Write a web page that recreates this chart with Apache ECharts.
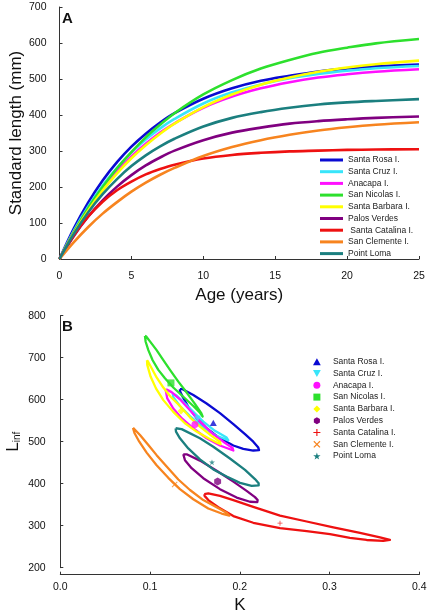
<!DOCTYPE html>
<html><head><meta charset="utf-8">
<script src="https://cdn.jsdelivr.net/npm/echarts@6/dist/echarts.min.js"></script>
<style>html,body{margin:0;padding:0;background:#fff}#c{width:430px;height:616px}</style>
</head><body><div id="c"></div>
<script>
// ---------- data ----------
const sites = ['Santa Rosa I.','Santa Cruz I.','Anacapa I.','San Nicolas I.','Santa Barbara I.','Palos Verdes','Santa Catalina I.','San Clemente I.','Point Loma'];
const legendANames = ['Santa Rosa I.','Santa Cruz I.','Anacapa I.','San Nicolas I.','Santa Barbara I.','Palos Verdes',' Santa Catalina I.','San Clemente I.','Point Loma'];
const colors = ['#0a0ad2','#38e5fa','#ff10ff','#2de02d','#ffff00','#800080','#ee1111','#f7841f','#1b7f7f'];

// Panel A: growth curves (age in years, standard length in mm)
const ages = [0,1,2,3,4,5,6,7,8,10,12,14,16,18,20,22,25];
const lenSantaRosa    = [0,85,157,218,269,312,348,379,405,445,474,495,509,521,529,535,540];
const lenSantaCruz    = [0,79,146,204,253,296,332,363,389,432,463,485,502,514,523,530,536];
const lenAnacapa      = [0,75,140,196,244,285,320,351,377,420,451,474,491,504,513,520,527];
const lenSanNicolas   = [0,75,142,200,252,297,338,373,405,457,497,529,553,573,587,599,611];
const lenSantaBarbara = [0,72,135,190,238,280,316,348,376,422,457,484,504,520,532,541,551];
const lenPalosVerdes  = [0,64,118,163,201,233,260,282,301,330,351,365,376,383,388,392,396];
const lenSantaCatalina= [0,66,118,159,191,215,235,250,262,279,289,295,299,301,303,304,305];
const lenSanClemente  = [0,47,89,126,158,187,212,234,253,286,311,330,345,357,366,373,380];
const lenPointLoma    = [0,70,130,180,222,258,288,313,334,368,392,408,420,429,435,439,444];

// Panel B: confidence regions [K, Linf]
const regSantaRosa = [[0.1333,625],[0.1363,625],[0.1482,611],[0.1630,591],[0.1779,568],[0.1928,542],[0.2058,518],[0.2150,500],[0.2206,486],[0.2214,480],[0.2150,479],[0.2039,483],[0.1928,491],[0.1779,508],[0.1630,532],[0.1519,556],[0.1426,583],[0.1363,607],[0.1333,621],[0.1333,625]];
const regSantaCruz = [[0.1252,615],[0.1259,606],[0.1333,585],[0.1445,561],[0.1575,537],[0.1723,516],[0.1872,503],[0.1853,510],[0.1723,526],[0.1593,548],[0.1482,571],[0.1370,595],[0.1296,610],[0.1252,615]];
const regAnacapa = [[0.1174,623],[0.1192,603],[0.1259,579],[0.1352,556],[0.1482,532],[0.1630,508],[0.1779,491],[0.1928,479],[0.1920,485],[0.1816,500],[0.1686,521],[0.1556,548],[0.1445,575],[0.1333,601],[0.1240,618],[0.1185,624],[0.1174,623]];
const regSanNicolas = [[0.0943,752],[0.0951,738],[0.0981,718],[0.1029,694],[0.1092,671],[0.1166,651],[0.1259,629],[0.1370,607],[0.1482,585],[0.1556,569],[0.1586,560],[0.1571,568],[0.1500,590],[0.1408,617],[0.1315,643],[0.1222,671],[0.1148,694],[0.1073,718],[0.0999,739],[0.0955,751],[0.0943,752]];
const regSantaBarbara = [[0.0966,694],[0.0969,683],[0.1006,655],[0.1066,627],[0.1148,599],[0.1259,571],[0.1389,544],[0.1519,524],[0.1649,508],[0.1742,498],[0.1786,494],[0.1779,500],[0.1686,514],[0.1556,536],[0.1445,558],[0.1333,585],[0.1229,607],[0.1148,629],[0.1073,653],[0.1018,675],[0.0977,691],[0.0966,694]];
const regPalosVerdes = [[0.1370,470],[0.1408,470],[0.1556,455],[0.1742,431],[0.1928,405],[0.2076,383],[0.2169,368],[0.2199,361],[0.2195,356],[0.2113,357],[0.1965,367],[0.1779,387],[0.1593,413],[0.1463,437],[0.1389,456],[0.1370,470]];
const regSantaCatalina = [[0.1604,375],[0.1649,377],[0.1779,371],[0.1928,361],[0.2150,345],[0.2448,324],[0.2745,310],[0.3042,296],[0.3339,283],[0.3562,272],[0.3673,266],[0.3599,264],[0.3413,266],[0.3227,271],[0.3005,280],[0.2745,287],[0.2448,294],[0.2150,307],[0.1928,323],[0.1760,344],[0.1649,361],[0.1608,371],[0.1604,375]];
const regSanClemente = [[0.0810,533],[0.0828,520],[0.0880,500],[0.0962,474],[0.1073,444],[0.1203,414],[0.1333,387],[0.1482,363],[0.1649,341],[0.1798,329],[0.1883,324],[0.1853,331],[0.1742,344],[0.1593,361],[0.1445,385],[0.1315,410],[0.1185,441],[0.1073,468],[0.0981,492],[0.0888,516],[0.0821,531],[0.0810,533]];
const regPointLoma = [[0.1285,532],[0.1352,530],[0.1556,508],[0.1705,488],[0.1890,460],[0.2058,433],[0.2169,411],[0.2210,401],[0.2210,396],[0.2132,395],[0.2002,402],[0.1853,417],[0.1705,434],[0.1556,458],[0.1426,484],[0.1333,508],[0.1289,524],[0.1285,532]];

// Panel B: point estimates
const estK    = [0.1705,0.153,0.150,0.1233,0.1345,0.1753,0.2448,0.1274,0.169];
const estLinf = [545,555,541,640,573,405,306,398,451];

// ---------- chart ----------
const lengths = [lenSantaRosa,lenSantaCruz,lenAnacapa,lenSanNicolas,lenSantaBarbara,lenPalosVerdes,lenSantaCatalina,lenSanClemente,lenPointLoma];
const regions = [regSantaRosa,regSantaCruz,regAnacapa,regSanNicolas,regSantaBarbara,regPalosVerdes,regSantaCatalina,regSanClemente,regPointLoma];
const icons = [
  'path://M5,0L10,9L0,9Z',
  'path://M0,0L10,0L5,9Z',
  'path://M5,0A5,5 0 1,1 4.99,0Z',
  'path://M0,0H10V10H0Z',
  'path://M5,0L10,5L5,10L0,5Z',
  'path://M5,0L9.33,2.5L9.33,7.5L5,10L0.67,7.5L0.67,2.5Z',
  'path://M4.2,0H5.8V4.2H10V5.8H5.8V10H4.2V5.8H0V4.2H4.2Z',
  'path://M1.2,0L5,3.8L8.8,0L10,1.2L6.2,5L10,8.8L8.8,10L5,6.2L1.2,10L0,8.8L3.8,5L0,1.2Z',
  'path://M5,0L6.2,3.6L10,3.6L6.9,5.9L8.1,9.5L5,7.3L1.9,9.5L3.1,5.9L0,3.6L3.8,3.6Z'
];
const markerSizes = [7,7,7,7,7,8,5,6,6];
const FONT = 'Arial, "Liberation Sans", sans-serif';
const axisCommon = {
  axisLine:{show:true,lineStyle:{color:'#333',width:1}},
  axisTick:{show:true,inside:true,length:3,lineStyle:{color:'#333'}},
  splitLine:{show:false},
  nameMoveOverlap:false,
  axisLabel:{color:'#111',fontSize:10.5,fontFamily:FONT},
  nameTextStyle:{color:'#111',fontSize:17,fontFamily:FONT}
};

const series = [];
lengths.forEach((arr,i)=>{
  series.push({type:'line',name:legendANames[i],xAxisIndex:0,yAxisIndex:0,
    data:ages.map((a,j)=>[a,arr[j]]),smooth:0.35,symbol:'none',
    lineStyle:{color:colors[i],width:2.6},itemStyle:{color:colors[i]},animation:false});
});
regions.forEach((arr,i)=>{
  series.push({type:'line',name:sites[i],xAxisIndex:1,yAxisIndex:1,data:arr,smooth:false,symbol:'none',
    lineStyle:{color:colors[i],width:2.3,join:'round'},itemStyle:{color:colors[i]},animation:false});
});
sites.forEach((s,i)=>{
  series.push({type:'scatter',name:sites[i],xAxisIndex:1,yAxisIndex:1,data:[[estK[i],estLinf[i]]],
    symbol:icons[i],symbolSize:markerSizes[i],symbolKeepAspect:true,
    itemStyle:{color:colors[i]},z:5,animation:false});
});

const chart = echarts.init(document.getElementById('c'),null,{renderer:'canvas'});
chart.setOption({
  backgroundColor:'#fff',
  animation:false,
  grid:[
    {left:59.5,width:359.5,top:7,height:252,containLabel:false,outerBoundsMode:'none'},
    {left:60.3,width:359,top:315.7,height:252,containLabel:false,outerBoundsMode:'none'}
  ],
  xAxis:[
    Object.assign({},axisCommon,{type:'value',gridIndex:0,min:0,max:25,interval:5,offset:4,
      name:'Age (years)',nameLocation:'middle',nameGap:24,
      axisLabel:Object.assign({},axisCommon.axisLabel,{margin:8})}),
    Object.assign({},axisCommon,{type:'value',gridIndex:1,min:0,max:0.4,interval:0.1,offset:7,
      name:'K',nameLocation:'middle',nameGap:22,
      axisLabel:Object.assign({},axisCommon.axisLabel,{margin:7,formatter:v=>v.toFixed(1)})})
  ],
  yAxis:[
    Object.assign({},axisCommon,{type:'value',gridIndex:0,min:0,max:700,interval:100,offset:8,
      name:'Standard length (mm)',nameLocation:'middle',nameGap:27,
      axisLabel:Object.assign({},axisCommon.axisLabel,{margin:5})}),
    Object.assign({},axisCommon,{type:'value',gridIndex:1,min:200,max:800,interval:100,offset:8.6,
      name:'{a|L}{b|inf}',nameLocation:'middle',nameGap:29,
      nameTextStyle:{color:'#111',fontFamily:FONT,rich:{a:{fontSize:17,fontFamily:FONT,color:'#111'},b:{fontSize:10,fontFamily:FONT,color:'#111',padding:[8,0,0,0]}}},
      axisLabel:Object.assign({},axisCommon.axisLabel,{margin:6})})
  ],
  legend:[
    {data:legendANames,orient:'vertical',left:320,top:155,icon:'rect',itemWidth:23,itemHeight:3,itemGap:1.7,
     padding:0,selectedMode:false,textStyle:{fontSize:8.5,fontFamily:FONT,color:'#222',lineHeight:10}},
    {data:sites.map((n,i)=>({name:n,icon:icons[i]})),orient:'vertical',left:313,top:356.7,itemWidth:22,itemHeight:7,itemGap:1.8,
     padding:0,selectedMode:false,itemStyle:{borderWidth:0},textStyle:{fontSize:8.5,fontFamily:FONT,color:'#222',lineHeight:10}}
  ],
  graphic:[
    {type:'text',left:62,top:11,style:{text:'A',font:'bold 15px '+FONT,fill:'#111'}},
    {type:'text',left:62,top:319,style:{text:'B',font:'bold 15px '+FONT,fill:'#111'}}
  ],
  series:series
});
</script></body></html>
